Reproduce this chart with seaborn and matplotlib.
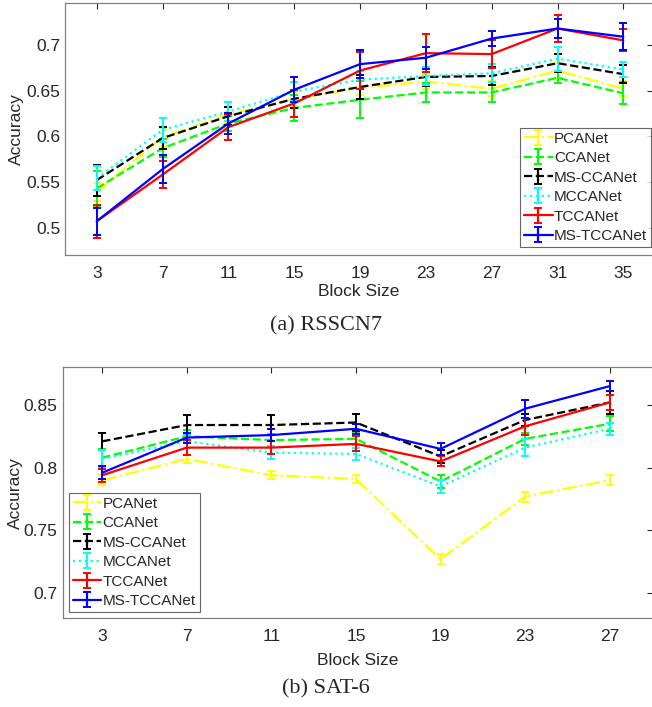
import numpy as np
import matplotlib
matplotlib.use("Agg")
import matplotlib.pyplot as plt
import seaborn as sns

methods = ["PCANet", "CCANet", "MS-CCANet", "MCCANet", "TCCANet", "MS-TCCANet"]
colors = ["#ffff00", "#00ff00", "#000000", "#00ffff", "#ff0000", "#0000ff"]
styles = ["-.", "--", "--", ":", "-", "-"]

# (a) RSSCN7
blocks_a = [3, 7, 11, 15, 19, 23, 27, 31, 35]
acc_a = {
    "PCANet":     [0.539, 0.599, 0.624, 0.641, 0.653, 0.660, 0.652, 0.672, 0.652],
    "CCANet":     [0.543, 0.587, 0.614, 0.631, 0.640, 0.648, 0.648, 0.664, 0.647],
    "MS-CCANet":  [0.552, 0.598, 0.622, 0.641, 0.654, 0.665, 0.666, 0.680, 0.668],
    "MCCANet":    [0.554, 0.607, 0.627, 0.649, 0.662, 0.666, 0.669, 0.685, 0.673],
    "TCCANet":    [0.507, 0.558, 0.610, 0.636, 0.672, 0.691, 0.690, 0.718, 0.705],
    "MS-TCCANet": [0.507, 0.564, 0.614, 0.651, 0.679, 0.686, 0.707, 0.718, 0.709],
}
err_a = {
    "PCANet":     [0.010, 0.010, 0.008, 0.008, 0.008, 0.008, 0.008, 0.008, 0.008],
    "CCANet":     [0.019, 0.010, 0.008, 0.014, 0.020, 0.010, 0.011, 0.006, 0.012],
    "MS-CCANet":  [0.017, 0.012, 0.010, 0.010, 0.013, 0.010, 0.010, 0.010, 0.010],
    "MCCANet":    [0.013, 0.013, 0.010, 0.010, 0.010, 0.010, 0.010, 0.013, 0.008],
    "TCCANet":    [0.018, 0.015, 0.014, 0.015, 0.020, 0.021, 0.015, 0.015, 0.012],
    "MS-TCCANet": [0.015, 0.015, 0.012, 0.014, 0.015, 0.012, 0.008, 0.010, 0.015],
}

# (b) SAT-6
blocks_b = [3, 7, 11, 15, 19, 23, 27]
acc_b = {
    "PCANet":     [0.790, 0.807, 0.794, 0.791, 0.727, 0.777, 0.790],
    "CCANet":     [0.808, 0.825, 0.822, 0.823, 0.789, 0.823, 0.835],
    "MS-CCANet":  [0.821, 0.834, 0.834, 0.836, 0.809, 0.838, 0.852],
    "MCCANet":    [0.807, 0.821, 0.812, 0.811, 0.785, 0.816, 0.831],
    "TCCANet":    [0.794, 0.816, 0.816, 0.819, 0.805, 0.833, 0.852],
    "MS-TCCANet": [0.796, 0.824, 0.826, 0.831, 0.815, 0.847, 0.865],
}
err_b = {
    "PCANet":     [0.004, 0.003, 0.003, 0.003, 0.004, 0.004, 0.004],
    "CCANet":     [0.007, 0.005, 0.005, 0.005, 0.005, 0.005, 0.006],
    "MS-CCANet":  [0.007, 0.008, 0.008, 0.007, 0.005, 0.005, 0.009],
    "MCCANet":    [0.007, 0.005, 0.005, 0.005, 0.005, 0.007, 0.005],
    "TCCANet":    [0.005, 0.006, 0.005, 0.006, 0.004, 0.007, 0.006],
    "MS-TCCANet": [0.005, 0.004, 0.005, 0.004, 0.005, 0.007, 0.004],
}

sns.set_style("white")
plt.rcParams["font.family"] = ["Liberation Sans", "DejaVu Sans"]

W, H = 652, 707
fig = plt.figure(figsize=(W / 100, H / 100), dpi=100)
# axes boxes in pixels; right spine runs off the page edge like the original
ax1 = fig.add_axes([65 / W, 1 - 255 / H, 588 / W, 251.7 / H])
ax2 = fig.add_axes([62.5 / W, 1 - 618.3 / H, 590.5 / W, 251 / H])


def draw(ax, blocks, acc, err):
    for m, c, ls in zip(methods, colors, styles):
        sns.lineplot(x=blocks, y=acc[m], ax=ax, color=c, linestyle=ls, lw=1.6, legend=False)
        ax.errorbar(blocks, acc[m], yerr=err[m], fmt="none", ecolor=c,
                    elinewidth=1.4, capsize=3, capthick=1.4)
    # proxy handles so the legend shows the errorbar glyph
    handles = []
    for m, c, ls in zip(methods, colors, styles):
        h = ax.errorbar([np.nan], [np.nan], yerr=[0.0], color=c, linestyle=ls, lw=1.6,
                        capsize=3, capthick=1.4, label=m)
        handles.append(h)
    ax.set_xticks(blocks)
    ax.set_xlabel("Block Size", fontsize=12.5, color="#262626", va="top")
    ax.set_ylabel("Accuracy", fontsize=12.5, color="#262626")
    ax.tick_params(direction="in", top=True, right=True, labelsize=12.5,
                   colors="#262626", length=4)
    ax.tick_params(axis="x", pad=8)
    for s in ax.spines.values():
        s.set_color("#808080")
        s.set_linewidth(0.9)
    return handles


leg_kw = dict(fontsize=11, frameon=True, fancybox=False, edgecolor="#404040",
              borderpad=0.25, labelspacing=0.36, handlelength=1.85,
              handletextpad=0.1, borderaxespad=0)

h1 = draw(ax1, blocks_a, acc_a, err_a)
ax1.set_xlim(1.07, 36.8)
ax1.set_ylim(0.47, 0.7456)
ax1.set_yticks([0.5, 0.55, 0.6, 0.65, 0.7])
ax1.set_yticklabels(["0.5", "0.55", "0.6", "0.65", "0.7"])
ax1.xaxis.set_label_coords(0.5, -29 / 251.7)
ax1.yaxis.set_label_coords(-41 / 588, 0.5)
leg1 = ax1.legend(handles=h1, loc="lower right",
                  bbox_to_anchor=((651 - 65) / 588, 8 / 251.7), **leg_kw)
leg1.get_frame().set_linewidth(0.8)

h2 = draw(ax2, blocks_b, acc_b, err_b)
ax2.set_xlim(1.12, 29.05)
ax2.set_ylim(0.68, 0.88)
ax2.set_yticks([0.7, 0.75, 0.8, 0.85])
ax2.set_yticklabels(["0.7", "0.75", "0.8", "0.85"])
ax2.xaxis.set_label_coords(0.5, -35 / 251)
ax2.yaxis.set_label_coords(-39.5 / 590.5, 0.5)
leg2 = ax2.legend(handles=h2, loc="lower left",
                  bbox_to_anchor=(6.5 / 590.5, 6.3 / 251), **leg_kw)
leg2.get_frame().set_linewidth(0.8)

fig.text(0.5, 1 - 326 / H, "(a) RSSCN7", ha="center", va="center",
         fontsize=16, family=["Liberation Serif", "DejaVu Serif"])
fig.text(0.5, 1 - 689 / H, "(b) SAT-6", ha="center", va="center",
         fontsize=16, family=["Liberation Serif", "DejaVu Serif"])

fig.savefig("out.png", dpi=100)
